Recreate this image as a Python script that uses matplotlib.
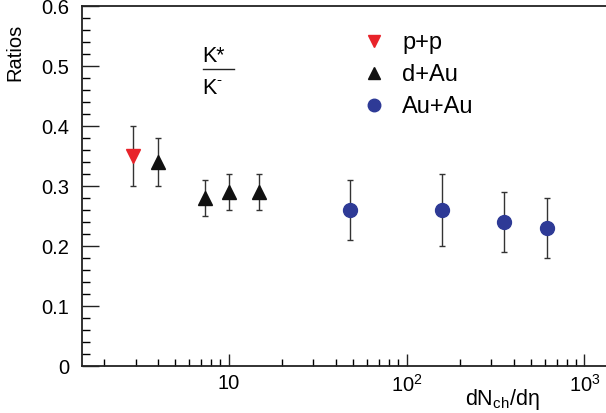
#!/usr/bin/env python3

import matplotlib.pyplot as plt
import numpy as np

plt.rcParams['font.family'] = ['Liberation Sans', 'DejaVu Sans']

# p+p
pp_x = [2.9]
pp_y = [0.35]
pp_lo = [0.30]
pp_hi = [0.40]

# d+Au
dau_x = [4.0, 7.4, 10.1, 14.8]
dau_y = [0.34, 0.28, 0.29, 0.29]
dau_lo = [0.30, 0.25, 0.26, 0.26]
dau_hi = [0.38, 0.31, 0.32, 0.32]

# Au+Au
auau_x = [48, 158, 355, 617]
auau_y = [0.26, 0.26, 0.24, 0.23]
auau_lo = [0.21, 0.20, 0.19, 0.18]
auau_hi = [0.31, 0.32, 0.29, 0.28]

fig = plt.figure(figsize=(6.06, 4.13), dpi=100)
ax = fig.add_axes([82/606, 47/413, 1 - 82/606 + 0.01, 360/413])

def series(x, y, lo, hi, marker, color, label):
    y = np.array(y)
    err = [y - np.array(lo), np.array(hi) - y]
    ax.errorbar(x, y, yerr=err, fmt='none', ecolor='#333333', elinewidth=1.0,
                capsize=2, capthick=1.0, zorder=2)
    ax.plot(x, y, marker, color=color, markersize=10, linestyle='none',
            label=label, zorder=3)

series(pp_x, pp_y, pp_lo, pp_hi, 'v', '#e8232a', 'p+p')
series(dau_x, dau_y, dau_lo, dau_hi, '^', '#111111', 'd+Au')
series(auau_x, auau_y, auau_lo, auau_hi, 'o', '#2e3a96', 'Au+Au')

ax.set_xscale('log')
ax.set_xlim(1.5, 1430)
ax.set_ylim(0, 0.6)
ax.set_xticks([10, 100, 1000])
ax.set_xticklabels(['10', '$\\mathregular{10^2}$', '$\\mathregular{10^3}$'])
ax.set_yticks([0, 0.1, 0.2, 0.3, 0.4, 0.5, 0.6])
ax.set_yticklabels(['0', '0.1', '0.2', '0.3', '0.4', '0.5', '0.6'])
ax.set_yticks(np.arange(0, 0.6, 0.02), minor=True)
ax.tick_params(axis='both', which='major', direction='in', labelsize=14.5,
               color='#222222')
ax.tick_params(axis='y', which='major', length=12, width=1, pad=9)
ax.tick_params(axis='y', which='minor', direction='in', length=6, width=1)
ax.tick_params(axis='x', which='major', length=9, width=1, pad=6)
ax.tick_params(axis='x', which='minor', direction='in', length=5, width=1)
ax.spines['right'].set_visible(False)
for s in ['left', 'bottom', 'top']:
    ax.spines[s].set_linewidth(1.3)
    ax.spines[s].set_color('#222222')

fig.text(15/606, 361/413, 'Ratios', fontsize=14.5, rotation=90,
         ha='center', va='center')
fig.text(540/606, 13/413, 'dN$_{\\mathregular{ch}}$/dη', fontsize=15.5,
         ha='right', va='center')

fig.text(202/606, 357/413, 'K*', fontsize=15.5, ha='left', va='center')
fig.text(202/606, 325/413, 'K', fontsize=15.5, ha='left', va='center')
fig.text(216/606, 333/413, '-', fontsize=11, ha='left', va='center')
fig.add_artist(plt.Line2D([203/606, 234/606], [344/413, 344/413],
                          color='#222222', linewidth=1))

leg = ax.legend(loc='upper left', bbox_to_anchor=(0.511, 0.953), frameon=False,
                fontsize=17, handletextpad=0.7, labelspacing=0.42,
                handlelength=1.0, borderaxespad=0, markerscale=0.9)

fig.savefig('out.png', dpi=100)
